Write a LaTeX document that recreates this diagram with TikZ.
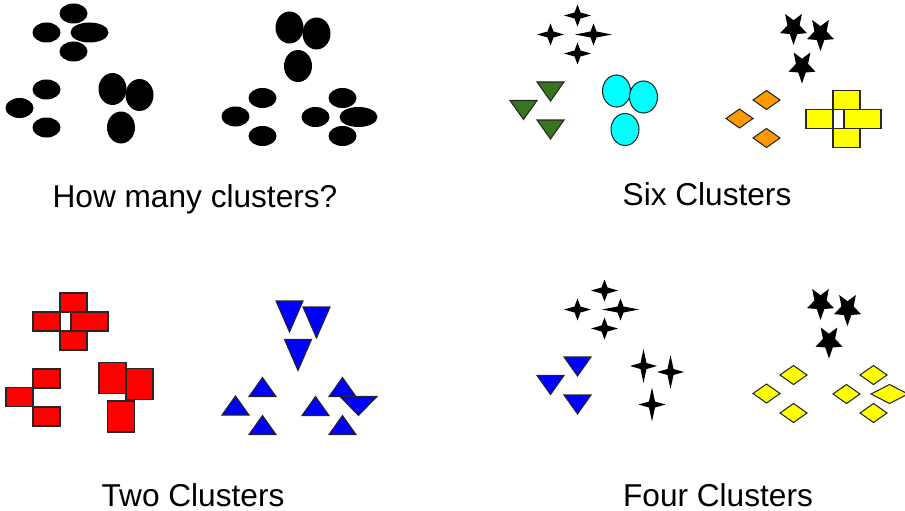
\documentclass[tikz,border=0pt]{standalone}
\usepackage{fontspec}
\setmainfont{Liberation Sans}
\usepackage{tikz}
\definecolor{clusterGreen}{HTML}{38761D}
\definecolor{clusterCyan}{HTML}{00FFFF}
\definecolor{clusterOrange}{HTML}{FF9900}
\definecolor{clusterYellow}{HTML}{FFFF00}
\definecolor{clusterRed}{HTML}{FF0000}
\definecolor{clusterBlue}{HTML}{0000FF}

% plus of four pieces: top, left, wide right, bottom
\newcommand{\crossGroup}[5]{%
  \foreach \dx/\dy in {0/0,-27/19,0/38}
    \pic[#5] at ({#1+(\dx)},{#2+(\dy)}) {#3=13.5/9.5};
  \pic[#5] at ({#1+16},{#2+19}) {#4=18.5/9.5};
}
% three pieces opening to the right
\newcommand{\veeGroup}[4]{%
  \foreach \dx/\dy in {0/0,-27/18.5,0/38}
    \pic[#4] at ({#1+(\dx)},{#2+(\dy)}) {#3=13.5/9.5};
}
% two tall pieces side by side, one below
\newcommand{\trioGroup}[4]{%
  \foreach \dx/\dy in {0/0,27/6,8.5/38.5}
    \pic[#4] at ({#1+(\dx)},{#2+(\dy)}) {#3=13.5/15.5};
}

\begin{document}
\begin{tikzpicture}[x=0.02cm, y=-0.02cm,
    ink/.style={fill=black},
    rim/.style={draw=black!85, line width=0.6pt},
    caption/.style={font=\fontsize{18}{21}\selectfont, anchor=base, inner sep=0pt, text depth=0pt},
    pics/oval/.style args={#1/#2}{code={\path[pic actions] (0,0) ellipse [x radius=#1+0.5, y radius=#2+0.5];}},
    pics/block/.style args={#1/#2}{code={\path[pic actions] (-#1,-#2) rectangle (#1,#2);}},
    pics/rhomb/.style args={#1/#2}{code={\path[pic actions] (-#1,0) -- (0,-#2) -- (#1,0) -- (0,#2) -- cycle;}},
    pics/tridown/.style args={#1/#2}{code={\path[pic actions] (-#1,-#2) -- (#1,-#2) -- (0,#2) -- cycle;}},
    pics/triup/.style args={#1/#2}{code={\path[pic actions] (-#1,#2) -- (#1,#2) -- (0,-#2) -- cycle;}},
    pics/spark/.style args={#1/#2}{code={\path[pic actions] (#1,0) -- (3,-3) -- (0,-#2-1.5) -- (-3,-3)
        -- (-#1,0) -- (-3,3) -- (0,#2+1.5) -- (3,3) -- cycle;}},
    pics/pent/.style args={#1/#2}{code={\path[pic actions] (0,#2) -- (0.28*#1,0.29*#2) -- (#1,0.236*#2)
        -- (0.45*#1,-0.26*#2) -- (0.618*#1,-#2) -- (0,-0.6*#2) -- (-0.618*#1,-#2)
        -- (-0.45*#1,-0.26*#2) -- (-#1,0.236*#2) -- (-0.28*#1,0.29*#2) -- cycle;}}
  ]
  \useasboundingbox (0,0) rectangle (905,510);

  % top left: plain ovals
  \crossGroup{73.5}{13.5}{oval}{oval}{ink}
  \veeGroup{46.5}{89.5}{oval}{ink}
  \trioGroup{112.5}{89}{oval}{ink}
  \trioGroup{289.5}{27.5}{oval}{ink}
  \veeGroup{262.5}{98}{oval}{ink}
  \crossGroup{342.5}{98}{oval}{oval}{ink}
  \node[caption] (howMany) at (195,207) {How many clusters?};

  % top right: six groups
  \begin{scope}[shift={(504,2)}]
    \crossGroup{73.5}{13.5}{spark}{spark}{ink}
    \veeGroup{46.5}{89.5}{tridown}{rim, fill=clusterGreen}
    \trioGroup{112.5}{89}{oval}{rim, fill=clusterCyan}
    \trioGroup{289.5}{27.5}{pent}{ink}
    \veeGroup{262.5}{98}{rhomb}{rim, fill=clusterOrange}
    \crossGroup{342.5}{98}{block}{block}{rim, fill=clusterYellow}
  \end{scope}
  \node[caption] (sixClusters) at (707,205) {Six Clusters};

  % bottom left: two groups
  \begin{scope}[shift={(0,289)}]
    \crossGroup{73.5}{13.5}{block}{block}{rim, fill=clusterRed}
    \veeGroup{46.5}{89.5}{block}{rim, fill=clusterRed}
    \trioGroup{112.5}{89}{block}{rim, fill=clusterRed}
    \trioGroup{289.5}{27.5}{tridown}{rim, fill=clusterBlue}
    \veeGroup{262.5}{98}{triup}{rim, fill=clusterBlue}
    \crossGroup{342.5}{98}{triup}{tridown}{rim, fill=clusterBlue}
  \end{scope}
  \node[caption] (twoClusters) at (193,506) {Two Clusters};

  % bottom right: four groups
  \begin{scope}[shift={(531,277)}]
    \crossGroup{73.5}{13.5}{spark}{spark}{ink}
    \veeGroup{46.5}{89.5}{tridown}{rim, fill=clusterBlue}
    \trioGroup{112.5}{89}{spark}{ink}
    \trioGroup{289.5}{27.5}{pent}{ink}
    \veeGroup{262.5}{98}{rhomb}{rim, fill=clusterYellow}
    \crossGroup{342.5}{98}{rhomb}{rhomb}{rim, fill=clusterYellow}
  \end{scope}
  \node[caption] (fourClusters) at (718,506) {Four Clusters};
\end{tikzpicture}
\end{document}
